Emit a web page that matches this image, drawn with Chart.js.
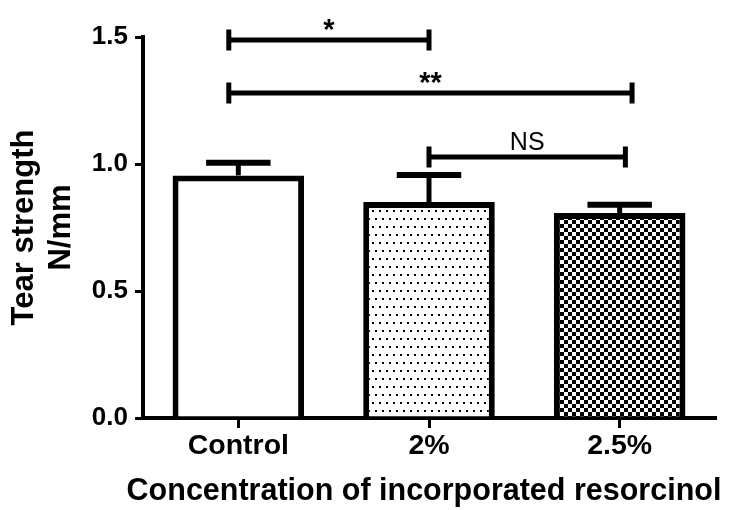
<!DOCTYPE html>
<html>
<head>
<meta charset="utf-8">
<script src="https://cdn.jsdelivr.net/npm/chart.js@4"></script>
<style>
    html, body { margin: 0; padding: 0; background: #fff; }
    #wrap { width: 738px; height: 510px; }
</style>
</head>
<body>
<div id="wrap"><canvas id="tearChart" width="738" height="510"></canvas></div>
<script>
// data
const categories = ['Control', '2%', '2.5%'];
const meanValues = [0.955, 0.85, 0.807];
const semValues = [0.05, 0.107, 0.033];
const yTicks = [0, 0.5, 1.0, 1.5];
const xTitle = 'Concentration of incorporated resorcinol';

// significance brackets (category index from/to, height in N/mm)
const bracketFrom = [-0.05, -0.05, 1.0];
const bracketTo = [1.0, 2.065, 2.03];
const bracketHeight = [1.488, 1.28, 1.028];
const bracketLabels = ['*', '**', 'NS'];

const fontFamily = "'Liberation Sans', Arial, sans-serif";
let tearChart;

function makeDotPattern(ctx) {
    const c = document.createElement('canvas');
    c.width = 7;
    c.height = 16;
    const g = c.getContext('2d');
    g.fillStyle = '#fff';
    g.fillRect(0, 0, 7, 16);
    g.fillStyle = '#000';
    g.fillRect(1, 2, 2, 2);
    g.fillRect(4, 10, 2, 2);
    return ctx.createPattern(c, 'repeat');
}

function makeCheckerPattern(ctx) {
    const c = document.createElement('canvas');
    c.width = 8;
    c.height = 8;
    const g = c.getContext('2d');
    g.fillStyle = '#fff';
    g.fillRect(0, 0, 8, 8);
    g.fillStyle = '#000';
    g.fillRect(0, 0, 4, 4);
    g.fillRect(4, 4, 4, 4);
    return ctx.createPattern(c, 'repeat');
}

// upper error whisker on each bar
const errorBarPlugin = {
    id: 'errorBars',
    afterDatasetsDraw(chart) {
        const ctx = chart.ctx;
        const yScale = chart.scales.y;
        const meta = chart.getDatasetMeta(0);
        ctx.save();
        ctx.strokeStyle = '#000';
        meta.data.forEach(function(bar, i) {
            const yTop = yScale.getPixelForValue(meanValues[i] + semValues[i]);
            const half = bar.width * 0.245;
            ctx.lineWidth = 5;
            ctx.beginPath();
            ctx.moveTo(bar.x, bar.y);
            ctx.lineTo(bar.x, yTop);
            ctx.stroke();
            ctx.lineWidth = 6;
            ctx.beginPath();
            ctx.moveTo(bar.x - half, yTop);
            ctx.lineTo(bar.x + half, yTop);
            ctx.stroke();
        });
        ctx.restore();
    }
};

// comparison brackets with their labels, plus the x axis title
// (drawn by hand so Chart.js does not squeeze it to the axis width)
const bracketPlugin = {
    id: 'brackets',
    afterDraw(chart) {
        const ctx = chart.ctx;
        const xScale = chart.scales.x;
        const yScale = chart.scales.y;
        const area = chart.chartArea;
        ctx.save();
        ctx.strokeStyle = '#000';
        ctx.fillStyle = '#000';
        ctx.lineWidth = 5;
        for (let i = 0; i < bracketLabels.length; i++) {
            const x1 = xScale.getPixelForValue(bracketFrom[i]);
            const x2 = xScale.getPixelForValue(bracketTo[i]);
            const y = yScale.getPixelForValue(bracketHeight[i]);
            ctx.beginPath();
            ctx.moveTo(x1, y);
            ctx.lineTo(x2, y);
            ctx.moveTo(x1, y - 10.5);
            ctx.lineTo(x1, y + 10.5);
            ctx.moveTo(x2, y - 10.5);
            ctx.lineTo(x2, y + 10.5);
            ctx.stroke();

            ctx.textAlign = 'center';
            ctx.textBaseline = 'alphabetic';
            if (bracketLabels[i] === 'NS') {
                ctx.font = '25px ' + fontFamily;
                ctx.fillText(bracketLabels[i], (x1 + x2) / 2, y - 7);
            } else {
                ctx.font = 'bold 29px ' + fontFamily;
                ctx.fillText(bracketLabels[i], (x1 + x2) / 2, y - 1);
            }
        }

        ctx.font = 'bold 30.5px ' + fontFamily;
        ctx.textAlign = 'center';
        ctx.textBaseline = 'alphabetic';
        ctx.fillText(xTitle, (area.left + area.right) / 2 - 5, area.bottom + 82);
        ctx.restore();
    }
};

function drawChart() {
    const ctx = document.getElementById('tearChart').getContext('2d');
    const fills = ['#ffffff', makeDotPattern(ctx), makeCheckerPattern(ctx)];

    tearChart = new Chart(ctx, {
        type: 'bar',
        data: {
            labels: categories,
            datasets: [{
                label: 'Tear strength',
                data: meanValues,
                backgroundColor: fills,
                borderColor: '#000',
                borderWidth: 6,
                categoryPercentage: 1.0,
                barPercentage: 0.69
            }]
        },
        options: {
            responsive: false,
            animation: false,
            layout: {
                padding: { top: 37, right: 23, bottom: 0, left: 0 }
            },
            plugins: {
                legend: { display: false },
                tooltip: { enabled: false }
            },
            scales: {
                x: {
                    afterFit(scale) { scale.height = 92; },
                    grid: {
                        drawOnChartArea: false,
                        offset: false,
                        tickLength: 10,
                        lineWidth: 3,
                        color: '#000'
                    },
                    border: { display: true, width: 4, color: '#000' },
                    ticks: {
                        color: '#000',
                        padding: 1,
                        font: { family: fontFamily, size: 28.5, weight: 'bold' }
                    }
                },
                y: {
                    min: 0,
                    max: 1.5,
                    afterFit(scale) { scale.width = 143; },
                    afterBuildTicks(scale) {
                        scale.ticks = yTicks.map(v => ({ value: v }));
                    },
                    grid: {
                        drawOnChartArea: false,
                        tickLength: 8,
                        lineWidth: 3,
                        color: '#000'
                    },
                    border: { display: true, width: 4, color: '#000' },
                    ticks: {
                        color: '#000',
                        padding: 7,
                        callback: v => Number(v).toFixed(1),
                        font: { family: fontFamily, size: 26, weight: 'bold' }
                    },
                    title: {
                        display: true,
                        text: ['Tear strength', 'N/mm'],
                        color: '#000',
                        padding: { top: 6, bottom: 0 },
                        font: { family: fontFamily, size: 31, weight: 'bold', lineHeight: 37 / 31 }
                    }
                }
            }
        },
        plugins: [errorBarPlugin, bracketPlugin]
    });
}

drawChart();
</script>
</body>
</html>
